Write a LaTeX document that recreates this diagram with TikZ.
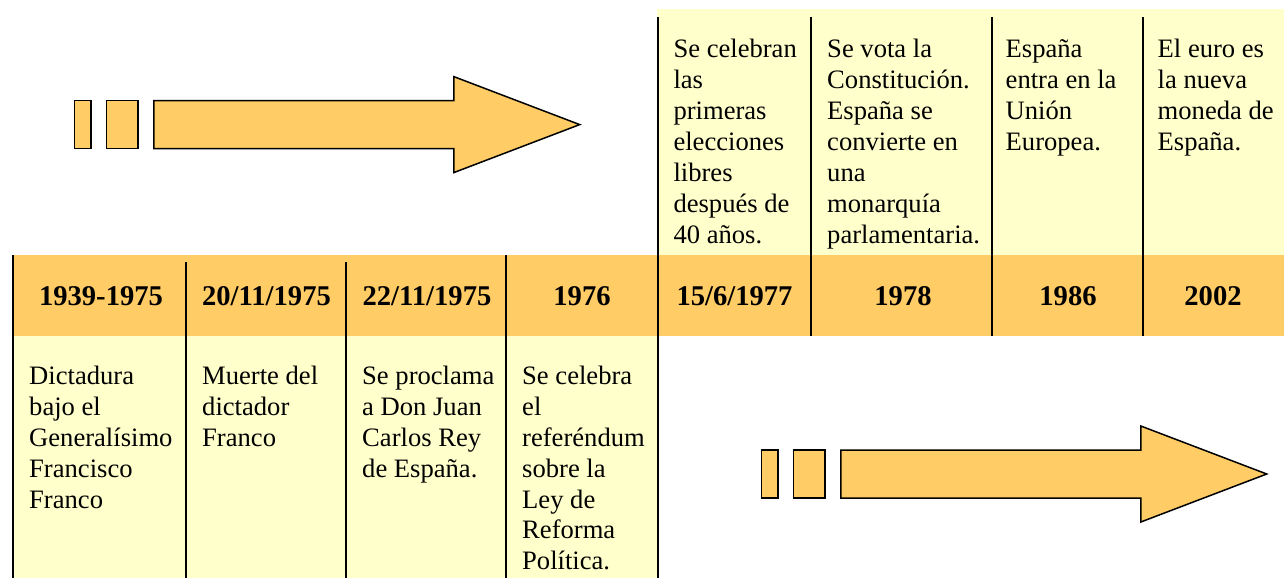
\documentclass[tikz,border=0pt]{standalone}
\usepackage{fontspec}
\setmainfont{Liberation Serif}
\definecolor{band}{HTML}{FFCC66}
\definecolor{cell}{HTML}{FFFFCC}
\begin{document}
\begin{tikzpicture}[x=1pt,y=-1pt,
  evtext/.style={anchor=north west, inner sep=0pt, align=left,
    font=\fontsize{26.6}{30.9}\selectfont},
  yeartext/.style={anchor=base, inner sep=0pt,
    font=\bfseries\fontsize{28.6}{32}\selectfont},
  colrule/.style={line width=2pt, black},
  arrowpart/.style={fill=band, draw=black, line width=1.5pt, line join=miter},
  bigarrow/.pic={
    \path[arrowpart] (0,-24) rectangle (16.5,24);
    \path[arrowpart] (32,-24) rectangle (63.5,24);
    \path[arrowpart] (79.3,-24) -- (379.3,-24) -- (379.3,-48) -- (505.2,0)
      -- (379.3,48) -- (379.3,24) -- (79.3,24) -- cycle;
  }]
\useasboundingbox (0,0) rectangle (1284,578);

% backgrounds
\fill[cell] (657,9) rectangle (1284,255);
\fill[band] (12,255) rectangle (1284,336);
\fill[cell] (12,336) rectangle (658,578);

% column rules
\draw[colrule] (12.5,255) -- (12.5,578);
\draw[colrule] (185.5,262) -- (185.5,578);
\draw[colrule] (346,262) -- (346,578);
\draw[colrule] (506,255) -- (506,578);
\draw[colrule] (658,17) -- (658,578);
\draw[colrule] (811,17) -- (811,336);
\draw[colrule] (992,17) -- (992,336);
\draw[colrule] (1142.5,17) -- (1142.5,336);

% years
\node[yeartext] (y1) at (101,305.5) {1939-1975};
\node[yeartext] (y2) at (266.5,305.5) {20/11/1975};
\node[yeartext] (y3) at (427,305.5) {22/11/1975};
\node[yeartext] (y4) at (582,305.5) {1976};
\node[yeartext] (y5) at (734.5,305.5) {15/6/1977};
\node[yeartext] (y6) at (903,305.5) {1978};
\node[yeartext] (y7) at (1068,305.5) {1986};
\node[yeartext] (y8) at (1213,305.5) {2002};

% top events
\node[evtext] (e5) at (673.3,39.1) {Se celebran\\las\\primeras\\elecciones\\libres\\después de\\40 años.};
\node[evtext] (e6) at (827,39.1) {Se vota la\\Constitución.\\España se\\convierte en\\una\\monarquía\\parlamentaria.};
\node[evtext] (e7) at (1005.5,39.1) {\vphantom{l}España\\entra en la\\Unión\\Europea.};
\node[evtext] (e8) at (1157.5,39.1) {El euro es\\la nueva\\moneda de\\España.};

% bottom events
\node[evtext] (e1) at (29,365.8) {Dictadura\\bajo el\\Generalísimo\\Francisco\\Franco};
\node[evtext] (e2) at (202,365.8) {Muerte del\\dictador\\Franco};
\node[evtext] (e3) at (362,365.8) {Se proclama\\a Don Juan\\Carlos Rey\\de España.};
\node[evtext] (e4) at (522,365.8) {Se celebra\\el\\referéndum\\sobre la\\Ley de\\Reforma\\Política.};

% arrows
\pic at (74.5,124.6) {bigarrow};
\pic at (761.5,474) {bigarrow};
\end{tikzpicture}
\end{document}
